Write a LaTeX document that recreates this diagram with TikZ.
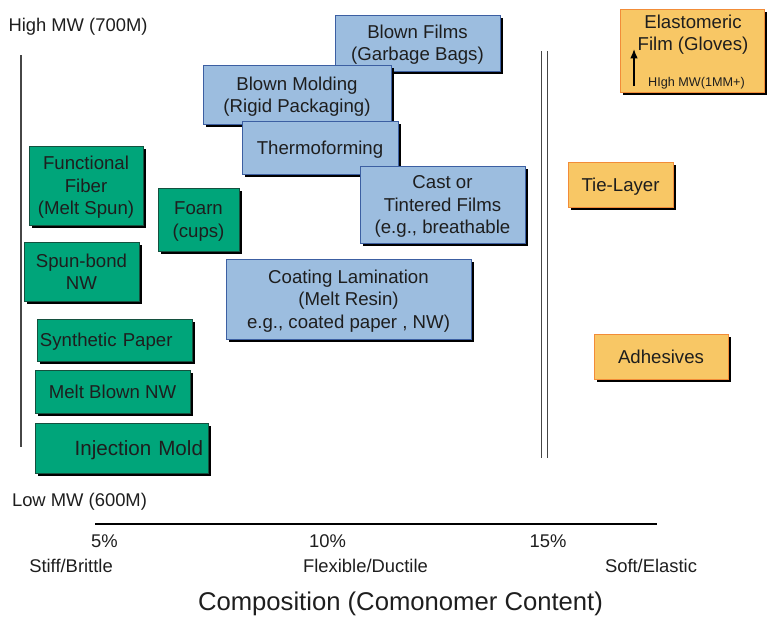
\documentclass[tikz,border=0pt]{standalone}
\usepackage{fontspec}
\setmainfont{Liberation Sans}
\usetikzlibrary{shadows,arrows.meta}

\definecolor{fibergreen}{RGB}{0,165,122}
\definecolor{fiberedge}{RGB}{20,80,62}
\definecolor{filmblue}{RGB}{156,189,223}
\definecolor{filmedge}{RGB}{60,95,162}
\definecolor{elastorange}{RGB}{248,199,101}
\definecolor{elastedge}{RGB}{242,140,56}
\definecolor{inktext}{RGB}{30,30,30}
\definecolor{rulegray}{RGB}{70,70,70}

\newcommand{\boxfont}{\fontsize{15.9}{19}\selectfont}
\newcommand{\bigboxfont}{\fontsize{17.6}{20}\selectfont}
\newcommand{\axisfont}{\fontsize{15.7}{18}\selectfont}
\newcommand{\titlefont}{\fontsize{21.9}{26}\selectfont}
\newcommand{\notefont}{\fontsize{10.8}{12}\selectfont}

\begin{document}
\begin{tikzpicture}[x=0.03cm, y=-0.03cm,
    appbox/.style={line width=0.7pt, inner sep=0pt, align=center, font=\boxfont, text=inktext,
        text depth=0pt,
        drop shadow={shadow xshift=2.6pt, shadow yshift=-2.6pt, fill=black, opacity=1}},
    greenbox/.style={appbox, fill=fibergreen, draw=fiberedge},
    bluebox/.style={appbox, fill=filmblue, draw=filmedge},
    orangebox/.style={appbox, fill=elastorange, draw=elastedge},
    axislabel/.style={font=\axisfont, text=inktext, inner sep=0pt}]
    \useasboundingbox (0,0) rectangle (769,617);

    % MW axis (left) and 15% divider
    \coordinate (mwtop) at (21,55);
    \coordinate (mwbot) at (21,447);
    \draw[rulegray, line width=1.2pt] (mwtop)--(mwbot);
    \foreach \i/\x in {1/541.5,2/547.5} {
        \coordinate (dt\i) at (\x,51);
        \coordinate (db\i) at (\x,458);
        \draw[rulegray, line width=1.3pt] (dt\i)--(db\i);
    }

    % films (blue)
    \node[bluebox, minimum width=4.95cm, minimum height=1.68cm] (films) at (417.5,43) {Blown Films\\(Garbage Bags)};
    \node[bluebox, minimum width=5.64cm, minimum height=1.77cm] (molding) at (297,94.5) {Blown Molding\\(Rigid Packaging)};
    \node[bluebox, minimum width=4.68cm, minimum height=1.59cm] (thermo) at (320,147.5) {Thermoforming};
    \node[bluebox, minimum width=4.95cm, minimum height=2.31cm] (cast) at (442.5,204.5) {Cast or\\Tintered Films\\(e.g., breathable};
    \node[bluebox, minimum width=7.35cm, minimum height=2.40cm] (coating) at (348.5,299) {Coating Lamination\\(Melt Resin)\\e.g., coated paper , NW)};

    % fibers and molded parts (green)
    \node[greenbox, minimum width=3.42cm, minimum height=2.37cm] (fiber) at (86,185.5) {Functional\\Fiber\\(Melt Spun)};
    \node[greenbox, minimum width=2.43cm, minimum height=1.89cm] (foam) at (198.5,219.5) {Foarn\\(cups)};
    \node[greenbox, minimum width=3.45cm, minimum height=1.77cm] (spun) at (81.5,271.5) {Spun-bond\\NW};
    \node[greenbox, minimum width=4.65cm, minimum height=1.26cm, text width=4.47cm, align=left] (synth) at (114.5,340) {Synthetic Paper};
    \node[greenbox, minimum width=4.65cm, minimum height=1.29cm] (melt) at (112.5,391.5) {Melt Blown NW};
    \node[greenbox, font=\bigboxfont, minimum width=5.19cm, minimum height=1.50cm, text width=4.89cm, align=right] (inject) at (121.5,448) {Injection Mold};

    % elastic grades (orange)
    \node[orangebox, minimum width=4.32cm, minimum height=2.49cm] (elasto) at (692,50.5) {};
    \node[font=\boxfont, text=inktext, align=center, inner sep=0pt] (elastotext) at (693,35) {Elastomeric\\Film (Gloves)};
    \node[font=\notefont, text=inktext, inner sep=0pt] (mwnote) at (696.5,83) {HIgh MW(1MM+)};
    \coordinate (mwlow) at (634,86);
    \coordinate (mwhigh) at (634,49);
    \draw[black, line width=1.2pt, -{Latex[length=8pt, width=6.5pt]}] (mwlow)--(mwhigh);
    \node[orangebox, minimum width=3.15cm, minimum height=1.35cm] (tie) at (620.5,184.5) {Tie-Layer};
    \node[orangebox, minimum width=4.02cm, minimum height=1.35cm] (adhes) at (661,356.5) {Adhesives};

    % MW labels
    \node[axislabel] (highmw) at (78,27) {High MW (700M)};
    \node[axislabel] (lowmw) at (79.5,502) {Low MW (600M)};

    % composition axis
    \coordinate (axl) at (95,524);
    \coordinate (axr) at (657,524);
    \draw[black, line width=0.9pt] (axl)--(axr);
    \node[axislabel] (p5) at (104.5,541) {5\%};
    \node[axislabel] (p10) at (327.5,541) {10\%};
    \node[axislabel] (p15) at (548,541) {15\%};
    \node[axislabel] (stiff) at (71,566) {Stiff/Brittle};
    \node[axislabel] (flex) at (365.5,566) {Flexible/Ductile};
    \node[axislabel] (soft) at (651,566) {Soft/Elastic};
    \node[font=\titlefont, text=inktext, inner sep=0pt] (comp) at (400.5,604) {Composition (Comonomer Content)};
\end{tikzpicture}
\end{document}
